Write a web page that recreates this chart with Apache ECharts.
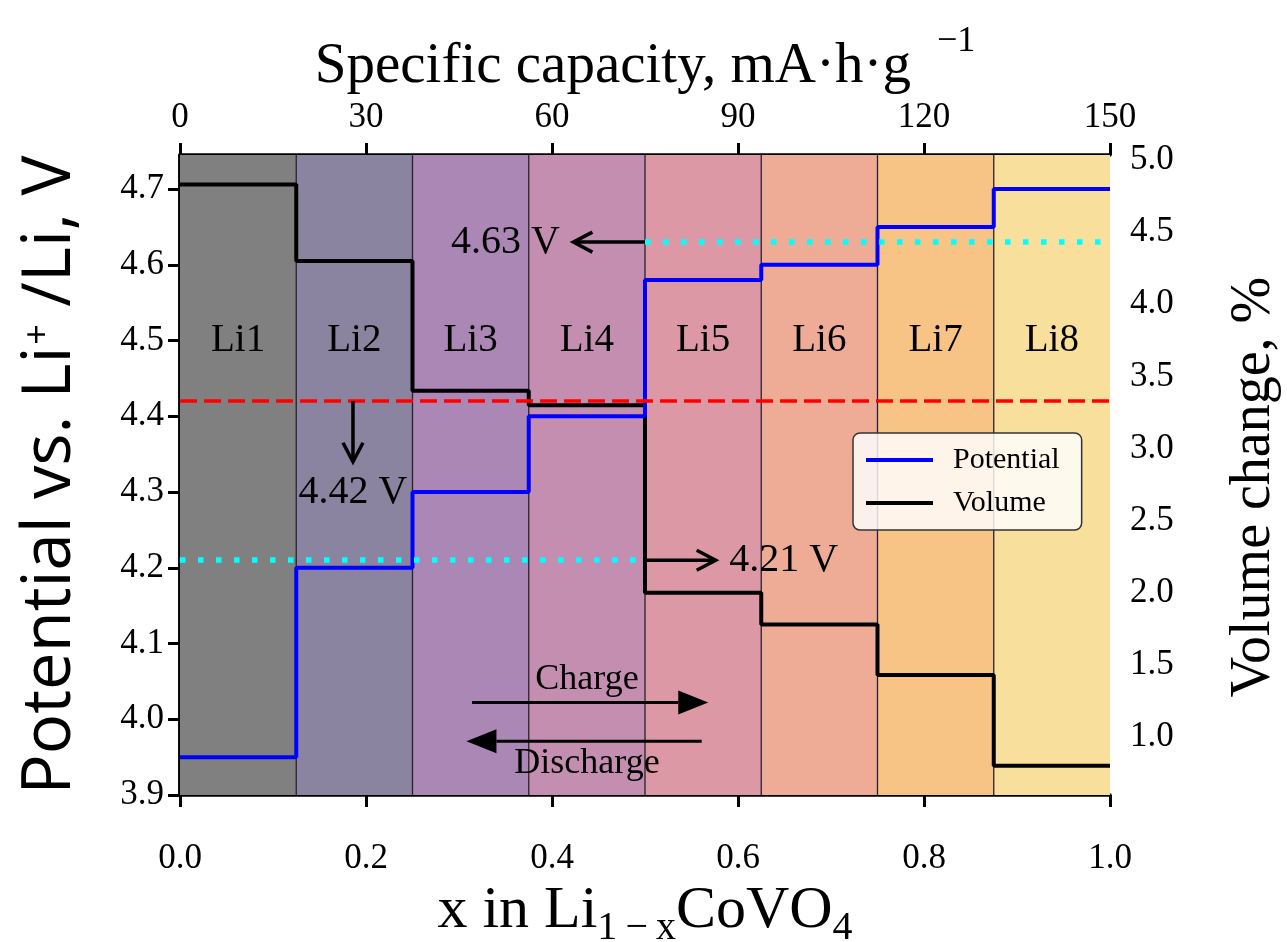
<!DOCTYPE html>
<html>
<head>
<meta charset="utf-8">
<script src="https://cdn.jsdelivr.net/npm/echarts@6/dist/echarts.min.js"></script>
<style>
  html, body { margin: 0; padding: 0; background: #ffffff; }
  #chart { width: 1287px; height: 942px; }
</style>
</head>
<body>
<div id="chart"></div>
<script>
// Delithiation phases Li1..Li8 along x in Li(1-x)CoVO4
const phaseNames = ['Li1', 'Li2', 'Li3', 'Li4', 'Li5', 'Li6', 'Li7', 'Li8'];
const phaseEdges = [0, 0.125, 0.25, 0.375, 0.5, 0.625, 0.75, 0.875, 1.0];

// Step values for each phase
const potential = [3.95, 4.20, 4.30, 4.40, 4.58, 4.60, 4.65, 4.70];   // V vs Li+/Li
const volume    = [4.83, 4.30, 3.40, 3.30, 2.00, 1.78, 1.43, 0.80];   // %

// Reference potentials
const averageVoltage = 4.42;
const lowOnset = 4.21;
const highOnset = 4.63;

// Tick values
const xTicks = [0, 0.2, 0.4, 0.6, 0.8, 1.0];
const capacityTicks = [0, 30, 60, 90, 120, 150];
const potentialTicks = [3.9, 4.0, 4.1, 4.2, 4.3, 4.4, 4.5, 4.6, 4.7];
const volumeTicks = [1.0, 1.5, 2.0, 2.5, 3.0, 3.5, 4.0, 4.5, 5.0];

// Phase band colours
const phaseColors = ['#808080', '#8b84a0', '#ab87b6', '#c48eb0', '#dc98a4', '#eeac97', '#f7c486', '#f9df9c'];

const SERIF = '"Liberation Serif", "Times New Roman", serif';
const SANS = '"Open Sans", "DejaVu Sans", sans-serif';

const yMin = 3.9, yMax = 4.745;
const vMin = 0.598, vMax = 5.035;
const phaseLabelLevel = 4.5;

function stepData(values) {
  const pts = values.map((v, i) => [phaseEdges[i], v]);
  pts.push([phaseEdges[phaseEdges.length - 1], values[values.length - 1]]);
  return pts;
}

// Annotation arrows: [x1, y1, x2, y2, headKind] (0 = open, 1 = filled)
const arrowItems = [
  [0.5, highOnset, 0.423, highOnset, 0],
  [0.186, averageVoltage, 0.186, 4.34, 0],
  [0.5, lowOnset, 0.576, lowOnset, 0],
  [0.314, 4.022, 0.568, 4.022, 1],
  [0.561, 3.971, 0.308, 3.971, 1]
];
const noteTexts = ['4.63 V', '4.42 V', '4.21 V', 'Charge', 'Discharge'];
const notePlaces = [[0.350, highOnset], [0.186, 4.30], [0.649, lowOnset], [0.4376, 4.052], [0.4376, 3.942]];
const noteSizes = [40, 40, 40, 36, 36];

const axisLineStyle = { color: '#000', width: 3.5 };
const tickStyle = { color: '#000', width: 3 };

const chart = echarts.init(document.getElementById('chart'));

chart.setOption({
  animation: false,
  backgroundColor: '#ffffff',
  grid: { left: 180, right: 177, top: 155, bottom: 147, containLabel: false, outerBoundsMode: 'none' },
  legend: {
    data: ['Potential', 'Volume'],
    orient: 'vertical',
    left: 853,
    top: 433,
    padding: [12, 22, 12, 13],
    itemGap: 13,
    itemWidth: 67,
    itemHeight: 4,
    icon: 'rect',
    backgroundColor: 'rgba(255,255,255,0.82)',
    borderColor: '#333',
    borderWidth: 1.5,
    borderRadius: 7,
    textStyle: { fontFamily: SERIF, fontSize: 30, color: '#000', padding: [0, 0, 0, 15] }
  },
  xAxis: [
    {
      type: 'value', position: 'bottom', min: 0, max: 1,
      axisLine: { show: true, lineStyle: axisLineStyle },
      axisTick: { show: true, length: 12, lineStyle: tickStyle, customValues: xTicks },
      axisLabel: {
        customValues: xTicks, formatter: v => v.toFixed(1),
        fontFamily: SERIF, fontSize: 35, color: '#000', margin: 46
      },
      splitLine: { show: false },
      name: '{t|x in Li}{b|1\u2009\u2212\u2009x}{t|CoVO}{b|4}',
      nameLocation: 'middle', nameGap: 85,
      nameTextStyle: {
        fontFamily: SERIF, color: '#000',
        rich: {
          t: { fontFamily: SERIF, fontSize: 60, lineHeight: 60, color: '#000', verticalAlign: 'top' },
          b: { fontFamily: SERIF, fontSize: 40, lineHeight: 68, color: '#000', verticalAlign: 'bottom' }
        }
      }
    },
    {
      type: 'value', position: 'top', min: 0, max: 150,
      axisLine: { show: true, lineStyle: axisLineStyle },
      axisTick: { show: true, length: 12, lineStyle: tickStyle, customValues: capacityTicks },
      axisLabel: {
        customValues: capacityTicks, formatter: v => String(v),
        fontFamily: SERIF, fontSize: 35, color: '#000', margin: 20
      },
      splitLine: { show: false },
      name: '{t|Specific capacity, mA\u00b7h\u00b7g}{s|\u22121}',
      nameLocation: 'middle', nameGap: 58,
      nameTextStyle: {
        fontFamily: SERIF, color: '#000',
        rich: {
          t: { fontFamily: SERIF, fontSize: 57, lineHeight: 72, color: '#000', verticalAlign: 'bottom' },
          s: { fontFamily: SERIF, fontSize: 36, lineHeight: 36, color: '#000', verticalAlign: 'top', padding: [0, 0, 0, 26] }
        }
      }
    }
  ],
  yAxis: [
    {
      type: 'value', position: 'left', min: yMin, max: yMax,
      axisLine: { show: true, lineStyle: axisLineStyle },
      axisTick: { show: true, length: 12, lineStyle: tickStyle, customValues: potentialTicks },
      axisLabel: {
        customValues: potentialTicks, formatter: v => v.toFixed(1),
        fontFamily: SERIF, fontSize: 35, color: '#000', margin: 16
      },
      splitLine: { show: false },
      name: '{t|Potential vs. Li}{s|+}{t| /Li, V}',
      nameLocation: 'middle', nameGap: 96, nameRotate: 90,
      nameTextStyle: {
        fontFamily: SANS, color: '#000',
        rich: {
          t: { fontFamily: SANS, fontSize: 67, lineHeight: 67, color: '#000', verticalAlign: 'bottom' },
          s: { fontFamily: SANS, fontSize: 36, lineHeight: 36, color: '#000', verticalAlign: 'top', padding: [4, 0, 0, 2] }
        }
      }
    },
    {
      type: 'value', position: 'right', min: vMin, max: vMax,
      axisLine: { show: true, lineStyle: axisLineStyle },
      axisTick: { show: true, length: 12, lineStyle: tickStyle, customValues: volumeTicks },
      axisLabel: {
        customValues: volumeTicks, formatter: v => v.toFixed(1),
        fontFamily: SERIF, fontSize: 35, color: '#000', margin: 20
      },
      splitLine: { show: false },
      name: 'Volume change, %',
      nameLocation: 'middle', nameGap: 116, nameRotate: 90,
      nameTextStyle: { fontFamily: SERIF, fontSize: 56, color: '#000', padding: [0, 24, 0, 0] }
    }
  ],
  series: [
    {
      // coloured phase bands with their labels
      type: 'custom',
      name: 'phases',
      xAxisIndex: 0, yAxisIndex: 0,
      silent: true, z: 1,
      clip: true,
      data: phaseNames.map((n, i) => [phaseEdges[i], phaseEdges[i + 1], i]),
      renderItem: function (params, api) {
        const i = api.value(2);
        const tl = api.coord([api.value(0), yMax]);
        const br = api.coord([api.value(1), yMin]);
        const mid = api.coord([(api.value(0) + api.value(1)) / 2, phaseLabelLevel]);
        const children = [
          { type: 'rect', shape: { x: tl[0], y: tl[1], width: br[0] - tl[0], height: br[1] - tl[1] },
            style: { fill: phaseColors[i] } },
          { type: 'text', style: { text: phaseNames[i], x: mid[0], y: mid[1], align: 'center', verticalAlign: 'middle',
            fontFamily: SERIF, fontSize: 39, fill: '#000' } }
        ];
        if (i > 0) {
          children.push({ type: 'line', shape: { x1: tl[0], y1: tl[1], x2: tl[0], y2: br[1] },
            style: { stroke: '#2b1f2b', lineWidth: 1.3 } });
        }
        return { type: 'group', children: children };
      }
    },
    {
      name: 'Potential',
      type: 'line',
      xAxisIndex: 0, yAxisIndex: 0,
      step: 'end',
      symbol: 'none',
      z: 4,
      lineStyle: { color: '#0000ff', width: 4 },
      itemStyle: { color: '#0000ff' },
      data: stepData(potential),
      markLine: {
        silent: true, symbol: 'none', label: { show: false },
        data: [
          { yAxis: averageVoltage, lineStyle: { color: '#ff0000', width: 3.5, type: [17, 7] } },
          [
            { coord: [0, lowOnset], lineStyle: { color: '#00ffff', width: 5.5, type: [5.5, 12.5] } },
            { coord: [0.5, lowOnset] }
          ],
          [
            { coord: [0.5, highOnset], lineStyle: { color: '#00ffff', width: 5.5, type: [5.5, 12.5] } },
            { coord: [1.0, highOnset] }
          ]
        ]
      }
    },
    {
      name: 'Volume',
      type: 'line',
      xAxisIndex: 0, yAxisIndex: 1,
      step: 'end',
      symbol: 'none',
      z: 3,
      lineStyle: { color: '#000000', width: 4 },
      itemStyle: { color: '#000000' },
      data: stepData(volume)
    },
    {
      // annotation arrows
      type: 'custom',
      name: 'arrows',
      xAxisIndex: 0, yAxisIndex: 0,
      silent: true, z: 5,
      data: arrowItems,
      renderItem: function (params, api) {
        const a = api.coord([api.value(0), api.value(1)]);
        const b = api.coord([api.value(2), api.value(3)]);
        const kind = api.value(4);
        const dx = b[0] - a[0], dy = b[1] - a[1];
        const len = Math.sqrt(dx * dx + dy * dy);
        const ux = dx / len, uy = dy / len;
        const px = -uy, py = ux;
        if (kind === 0) {
          const L = 19, W = 10;
          return { type: 'group', children: [
            { type: 'line', shape: { x1: a[0], y1: a[1], x2: b[0], y2: b[1] },
              style: { stroke: '#000', lineWidth: 3.5 } },
            { type: 'polyline', shape: { points: [
                [b[0] - ux * L + px * W, b[1] - uy * L + py * W], [b[0], b[1]],
                [b[0] - ux * L - px * W, b[1] - uy * L - py * W]] },
              style: { stroke: '#000', lineWidth: 3.5, fill: 'none', lineJoin: 'miter' } }
          ] };
        }
        const L = 30, W = 12;
        const base = [b[0] - ux * L, b[1] - uy * L];
        return { type: 'group', children: [
          { type: 'line', shape: { x1: a[0], y1: a[1], x2: base[0], y2: base[1] },
            style: { stroke: '#000', lineWidth: 3 } },
          { type: 'polygon', shape: { points: [[b[0], b[1]],
              [base[0] + px * W, base[1] + py * W], [base[0] - px * W, base[1] - py * W]] },
            style: { fill: '#000' } }
        ] };
      }
    },
    {
      // annotation texts
      type: 'custom',
      name: 'notes',
      xAxisIndex: 0, yAxisIndex: 0,
      silent: true, z: 6,
      data: notePlaces.map((p, i) => [p[0], p[1], i]),
      renderItem: function (params, api) {
        const i = api.value(2);
        const p = api.coord([api.value(0), api.value(1)]);
        return { type: 'text', style: { text: noteTexts[i], x: p[0], y: p[1],
          align: 'center', verticalAlign: 'middle', fontFamily: SERIF, fontSize: noteSizes[i], fill: '#000' } };
      }
    }
  ]
});
</script>
</body>
</html>
